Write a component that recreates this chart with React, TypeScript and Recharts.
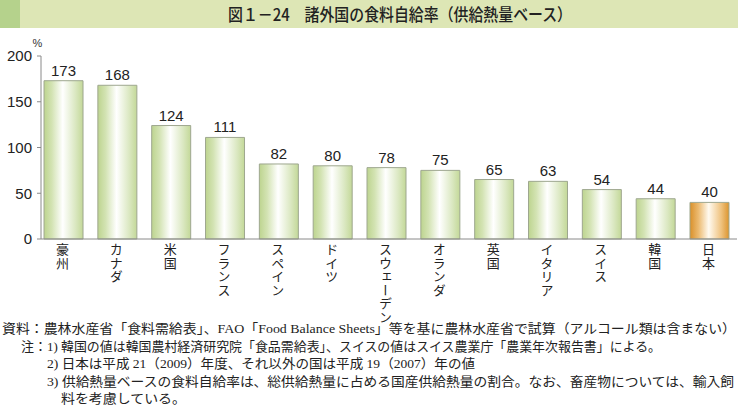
import React from 'react';
import { BarChart, Bar, XAxis, YAxis, Cell, LabelList } from 'recharts';

const countries = ['豪州', 'カナダ', '米国', 'フランス', 'スペイン', 'ドイツ', 'スウェーデン', 'オランダ', '英国', 'イタリア', 'スイス', '韓国', '日本'];
const selfSufficiency = [173, 168, 124, 111, 82, 80, 78, 75, 65, 63, 54, 44, 40];
const highlightCountry = '日本';
const yTicks = [0, 50, 100, 150, 200];
const titleText = '図１－24　諸外国の食料自給率（供給熱量ベース）';
const unitLabel = '%';
const notes = [
  '資料：農林水産省「食料需給表」、FAO「Food Balance Sheets」等を基に農林水産省で試算（アルコール類は含まない）',
  '注：',
  '1) 韓国の値は韓国農村経済研究院「食品需給表」、スイスの値はスイス農業庁「農業年次報告書」による。',
  '2) 日本は平成 21（2009）年度、それ以外の国は平成 19（2007）年の値',
  '3) 供給熱量ベースの食料自給率は、総供給熱量に占める国産供給熱量の割合。なお、畜産物については、輸入飼',
  '料を考慮している。',
];

const data = countries.map((c, i) => ({ country: c, value: selfSufficiency[i] }));

const sans = '"Liberation Sans", Arial, "Noto Sans CJK JP", sans-serif';
const jp = '"Noto Sans CJK JP", sans-serif';
const serif = '"Liberation Serif", "Noto Sans CJK JP", serif';

const VerticalTick = (props: any) => {
  const { x, y, payload } = props;
  return (
    <text
      x={x - 1}
      y={y}
      fill="#222"
      fontSize={13}
      fontFamily={jp}
      style={{ writingMode: 'vertical-rl', textOrientation: 'upright', letterSpacing: '0.5px' } as any}
    >
      {payload.value}
    </text>
  );
};

const noteLayout = [
  { x: 2, y: 333, len: 734 },
  { x: 21, y: 351, len: 0 },
  { x: 47, y: 351, len: 614 },
  { x: 47, y: 368, len: 428 },
  { x: 47, y: 386, len: 687 },
  { x: 61, y: 403, len: 125 },
];

export default function App() {
  return (
    <div style={{ position: 'absolute', left: 0, top: 0, width: 738, height: 408, background: '#fff', overflow: 'hidden' }}>
      <BarChart
        width={738}
        height={408}
        data={data}
        margin={{ top: 56, right: 1, bottom: 0, left: 0 }}
        barCategoryGap="13.8%"
      >
        <defs>
          <linearGradient id="gGreen" x1="0" y1="0" x2="1" y2="0">
            <stop offset="0%" stopColor="#bdd48f" />
            <stop offset="20%" stopColor="#d3e3b3" />
            <stop offset="48%" stopColor="#ffffff" />
            <stop offset="80%" stopColor="#dbe8c2" />
            <stop offset="100%" stopColor="#c3d898" />
          </linearGradient>
          <linearGradient id="gOrange" x1="0" y1="0" x2="1" y2="0">
            <stop offset="0%" stopColor="#d9902a" />
            <stop offset="22%" stopColor="#ecbb72" />
            <stop offset="48%" stopColor="#fffaf0" />
            <stop offset="80%" stopColor="#efc27e" />
            <stop offset="100%" stopColor="#dc952f" />
          </linearGradient>
        </defs>
        <XAxis
          dataKey="country"
          interval={0}
          padding={{ left: -4.4, right: 0.6 }}
          axisLine={{ stroke: '#8a8a8a', strokeWidth: 1 }}
          tickLine={false}
          tickSize={0}
          tickMargin={4}
          tick={<VerticalTick />}
          height={169}
        />
        <YAxis
          domain={[0, 200]}
          ticks={yTicks}
          width={41}
          axisLine={{ stroke: '#8a8a8a', strokeWidth: 1 }}
          tickLine={{ stroke: '#8a8a8a' }}
          tickSize={4}
          tickMargin={5}
          tick={{ fill: '#222', fontSize: 15, fontFamily: sans }}
          label={{ value: unitLabel, position: 'top', offset: 0, dx: 17, dy: -9, fill: '#333', fontSize: 11, fontFamily: sans }}
        />
        <Bar dataKey="value" isAnimationActive={false} stroke="#9ea78f" strokeWidth={1}>
          {data.map((d) => (
            <Cell key={d.country} fill={d.country === highlightCountry ? 'url(#gOrange)' : 'url(#gGreen)'} />
          ))}
          <LabelList dataKey="value" position="top" offset={5} fill="#222" fontSize={15} fontFamily={sans} />
        </Bar>
      </BarChart>
      <svg width={738} height={408} style={{ position: 'absolute', left: 0, top: 0, pointerEvents: 'none' }}>
        <rect x={0} y={0} width={738} height={28} fill="#dde6b5" />
        <rect x={0} y={0} width={20} height={28} fill="#b5d28c" />
        <text x={400} y={20.5} textAnchor="middle" fontSize={17} fontWeight={500} fontFamily={jp} fill="#222" textLength={344} lengthAdjust="spacingAndGlyphs">
          {titleText}
        </text>
        {notes.map((t, i) => {
          const l = noteLayout[i];
          return (
            <text
              key={i}
              x={l.x}
              y={l.y}
              fontSize={13}
              fontFamily={serif}
              fill="#222"
              {...(l.len ? { textLength: l.len, lengthAdjust: 'spacingAndGlyphs' } : {})}
            >
              {t}
            </text>
          );
        })}
      </svg>
    </div>
  );
}
